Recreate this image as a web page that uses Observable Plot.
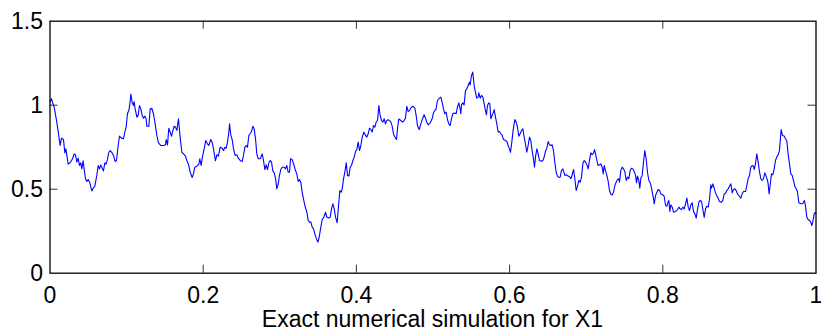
<!DOCTYPE html>
<html>
<head>
<meta charset="utf-8">
<script src="https://cdn.jsdelivr.net/npm/d3@7"></script>
<script src="https://cdn.jsdelivr.net/npm/@observablehq/plot@0.6"></script>
<style>
  html, body { margin: 0; padding: 0; background: white; }
  #chart svg { display: block; }
  #caption {
    margin-left: 49.5px; width: 766px; text-align: center;
    font-family: "Liberation Sans", Arial, sans-serif; font-size: 23px; line-height: 27px; color: black;
  }
</style>
</head>
<body>
<div id="chart"></div>
<div id="caption">Exact numerical simulation for X1</div>
<script>
const xTicks = [0, 0.2, 0.4, 0.6, 0.8, 1];
const yTicks = [0, 0.5, 1, 1.5];
const captionText = "Exact numerical simulation for X1";

const t = [
  0.000, 0.002, 0.0054, 0.0089, 0.0120, 0.0133, 0.0150, 0.0176, 0.0194, 0.0207,
  0.0220, 0.0237, 0.0263, 0.0294, 0.0315, 0.0333, 0.0350, 0.0368, 0.0385, 0.0402,
  0.0415, 0.0433, 0.0446, 0.0463, 0.0481, 0.0498, 0.0520, 0.0546, 0.0568, 0.0585,
  0.0611, 0.0629, 0.0646, 0.0663, 0.0681, 0.0698, 0.0716, 0.0733, 0.0750, 0.0768,
  0.0785, 0.0811, 0.0829, 0.0850, 0.0868, 0.0890, 0.0907, 0.0933, 0.0959, 0.0977,
  0.0994, 0.1011, 0.1029, 0.1046, 0.1055, 0.1072, 0.1090, 0.1098,
  0.1112, 0.1134, 0.1151, 0.1168, 0.1186, 0.1203, 0.1221, 0.1238, 0.1255, 0.1264,
  0.1290, 0.1308, 0.1329, 0.1351, 0.1373, 0.1395, 0.1416, 0.1447, 0.1482, 0.1508,
  0.1516, 0.1534, 0.1551, 0.1569, 0.1586, 0.1603, 0.1621, 0.1638, 0.1656, 0.1677,
  0.1699, 0.1721, 0.1743, 0.1769, 0.1786, 0.1808, 0.1830, 0.1856, 0.1873, 0.1890,
  0.1917, 0.1943, 0.1956, 0.1973, 0.1990, 0.2012, 0.2034, 0.2056, 0.2073, 0.2099,
  0.2117, 0.2134, 0.2160, 0.2178, 0.2199, 0.2221,
  0.2248, 0.2265, 0.2283, 0.2300, 0.2317, 0.2335, 0.2344, 0.2361, 0.2378, 0.2396,
  0.2417, 0.2439, 0.2457, 0.2483, 0.2509, 0.2526, 0.2544, 0.2561, 0.2578, 0.2596,
  0.2613, 0.2631, 0.2648, 0.2665, 0.2683, 0.2700, 0.2718, 0.2744, 0.2770, 0.2787,
  0.2805, 0.2822, 0.2839, 0.2857, 0.2874, 0.2892, 0.2909, 0.2926, 0.2944, 0.2961,
  0.2979, 0.2996, 0.3013, 0.3031, 0.3057, 0.3074, 0.3092, 0.3109, 0.3127, 0.3140,
  0.3161, 0.3187, 0.3205, 0.3222, 0.3240, 0.3257, 0.3274, 0.3292, 0.3309, 0.3327,
  0.3353, 0.3371, 0.3388, 0.3406, 0.3423, 0.3440, 0.3458, 0.3475, 0.3497, 0.3514,
  0.3532, 0.3554, 0.3575, 0.3597, 0.3614, 0.3641, 0.3658, 0.3675, 0.3693, 0.3710,
  0.3728, 0.3749, 0.3767, 0.3784, 0.3801, 0.3815, 0.3832, 0.3849, 0.3867, 0.3884,
  0.3902, 0.3919, 0.3936, 0.3954, 0.3971, 0.3989, 0.4006, 0.4023, 0.4041, 0.4058,
  0.4076, 0.4097, 0.4119, 0.4136, 0.4154, 0.4171, 0.4189, 0.4206, 0.4223, 0.4241,
  0.4258, 0.4276, 0.4293, 0.4310, 0.4328, 0.4345, 0.4363, 0.4380, 0.4397, 0.4415,
  0.4432, 0.4450, 0.4467, 0.4484,
  0.4493, 0.4510, 0.4523, 0.4536, 0.4554, 0.4580, 0.4606, 0.4623, 0.4641, 0.4658,
  0.4676, 0.4693, 0.4710, 0.4736, 0.4763, 0.4780, 0.4797, 0.4819, 0.4841, 0.4863,
  0.4884, 0.4902, 0.4919, 0.4937, 0.4963, 0.4989, 0.5006, 0.5024, 0.5041, 0.5058,
  0.5084, 0.5102, 0.5119, 0.5137, 0.5154, 0.5171, 0.5189, 0.5206, 0.5224, 0.5241,
  0.5258, 0.5284, 0.5302, 0.5319, 0.5337, 0.5354, 0.5363, 0.5372, 0.5389, 0.5406,
  0.5424, 0.5441, 0.5459, 0.5476, 0.5485, 0.5502, 0.5519, 0.5537, 0.5554, 0.5571, 0.5589,
  0.5598, 0.5616, 0.5633, 0.5651, 0.5668, 0.5685, 0.5698, 0.5712, 0.5729, 0.5742,
  0.5755, 0.5772, 0.5790, 0.5799, 0.5816, 0.5833, 0.5851, 0.5868, 0.5886, 0.5903,
  0.5920, 0.5946, 0.5964, 0.5981, 0.5999, 0.6012, 0.6029, 0.6046, 0.6068, 0.6086,
  0.6103, 0.6120, 0.6138, 0.6155, 0.6173, 0.6190, 0.6207, 0.6225, 0.6242, 0.6260,
  0.6277, 0.6294, 0.6312, 0.6325, 0.6338, 0.6355, 0.6373, 0.6390, 0.6416, 0.6434,
  0.6451, 0.6468, 0.6486, 0.6503, 0.6521, 0.6538, 0.6555, 0.6573, 0.6590, 0.6608,
  0.6625, 0.6642, 0.6660, 0.6677, 0.6695,
  0.6721, 0.6739, 0.6765, 0.6782, 0.6800, 0.6817, 0.6835, 0.6852, 0.6869, 0.6887,
  0.6904, 0.6922, 0.6939, 0.6956, 0.6974, 0.6991, 0.7009, 0.7026, 0.7043, 0.7061,
  0.7078, 0.7096, 0.7109, 0.7122, 0.7139, 0.7156, 0.7174, 0.7191, 0.7209, 0.7222,
  0.7235, 0.7252, 0.7270, 0.7287, 0.7304, 0.7322, 0.7339, 0.7357, 0.7374, 0.7391,
  0.7409, 0.7426, 0.7435, 0.7452, 0.7470, 0.7487, 0.7504, 0.7522, 0.7539, 0.7557,
  0.7574, 0.7591, 0.7609, 0.7626, 0.7644, 0.7657, 0.7670, 0.7687, 0.7700, 0.7713,
  0.7731, 0.7748, 0.7765, 0.7783, 0.7800, 0.7818, 0.7835,
  0.7844, 0.7862, 0.7879, 0.7888, 0.7905, 0.7923, 0.7940, 0.7958, 0.7975, 0.8001,
  0.8018, 0.8036, 0.8053, 0.8071, 0.8079, 0.8092, 0.8105, 0.8123, 0.8140, 0.8166,
  0.8192, 0.8210, 0.8227, 0.8245, 0.8262, 0.8279, 0.8297, 0.8314, 0.8332, 0.8349,
  0.8366, 0.8384, 0.8401, 0.8419, 0.8436, 0.8453, 0.8471, 0.8488, 0.8506, 0.8523,
  0.8540, 0.8558, 0.8575, 0.8593, 0.8610, 0.8627, 0.8636, 0.8654, 0.8671, 0.8688,
  0.8714, 0.8741, 0.8767, 0.8784, 0.8801, 0.8819, 0.8836, 0.8854, 0.8871, 0.8888,
  0.8906, 0.8923, 0.8941, 0.8958, 0.8975,
  0.9001, 0.9019, 0.9036, 0.9053, 0.9080, 0.9097, 0.9114, 0.9132, 0.9149, 0.9167,
  0.9184, 0.9193, 0.9210, 0.9227, 0.9245, 0.9262, 0.9280, 0.9297, 0.9314, 0.9332,
  0.9349, 0.9367, 0.9375, 0.9388, 0.9401, 0.9419, 0.9436, 0.9454, 0.9471, 0.9488,
  0.9506, 0.9523, 0.9532, 0.9545, 0.9562, 0.9584, 0.9602, 0.9619, 0.9636, 0.9654,
  0.9671, 0.9689, 0.9706, 0.9723, 0.9741, 0.9758, 0.9776, 0.9802, 0.9828, 0.9849,
  0.9862, 0.9880, 0.9897, 0.9915, 0.9932, 0.9945, 0.9958, 0.9976, 0.9993, 1.0000
];

const x1 = [
  1.02, 1.038, 0.988, 0.899, 0.800, 0.760, 0.804, 0.796, 0.716, 0.740,
  0.701, 0.649, 0.657, 0.681, 0.709, 0.705, 0.661, 0.685, 0.641, 0.657,
  0.621, 0.669, 0.621, 0.562, 0.546, 0.558, 0.538, 0.490, 0.510, 0.518,
  0.582, 0.641, 0.621, 0.645, 0.625, 0.609, 0.657, 0.649, 0.677, 0.720,
  0.730, 0.716, 0.701, 0.665, 0.671, 0.760, 0.816, 0.804, 0.800, 0.840,
  0.869, 0.949, 0.968, 1.018, 1.066, 1.018, 0.998, 1.022,
  0.978, 0.929, 0.939, 0.998, 0.978, 0.939, 0.923, 0.935, 0.919, 0.875,
  0.875, 0.978, 0.982, 0.949, 0.889, 0.820, 0.776, 0.760, 0.760, 0.764,
  0.796, 0.764, 0.863, 0.839, 0.816, 0.847, 0.875, 0.869, 0.850, 0.919,
  0.810, 0.720, 0.710, 0.697, 0.671, 0.649, 0.601, 0.570, 0.591, 0.631,
  0.637, 0.649, 0.681, 0.641, 0.691, 0.740, 0.790, 0.770, 0.760, 0.796,
  0.780, 0.740, 0.669, 0.705, 0.697, 0.750,
  0.744, 0.730, 0.750, 0.744, 0.780, 0.840, 0.889, 0.820, 0.796, 0.740,
  0.701, 0.705, 0.685, 0.671, 0.665, 0.701, 0.750, 0.760, 0.750, 0.820,
  0.830, 0.843, 0.875, 0.859, 0.800, 0.710, 0.681, 0.681, 0.710, 0.671,
  0.617, 0.645, 0.617, 0.657, 0.671, 0.661, 0.609, 0.597, 0.566, 0.502,
  0.532, 0.582, 0.617, 0.631, 0.631, 0.621, 0.641, 0.601, 0.601, 0.681,
  0.677, 0.641, 0.611, 0.591, 0.546, 0.558, 0.542, 0.482, 0.443, 0.403,
  0.363, 0.314, 0.304, 0.304, 0.274, 0.264, 0.234, 0.209, 0.185, 0.214,
  0.264, 0.320, 0.334, 0.363, 0.334, 0.328, 0.334, 0.383, 0.413, 0.383,
  0.334, 0.300, 0.403, 0.492, 0.482, 0.502, 0.562, 0.601, 0.657, 0.582,
  0.578, 0.631, 0.641, 0.671, 0.691, 0.724, 0.736, 0.780, 0.730, 0.760,
  0.810, 0.840, 0.820, 0.810, 0.830, 0.863, 0.855, 0.840, 0.879, 0.869,
  0.899, 0.909, 0.998, 0.939, 0.909, 0.899, 0.919, 0.889, 0.909, 0.913,
  0.909, 0.899, 0.875, 0.830,
  0.820, 0.804, 0.796, 0.859, 0.919, 0.909, 0.899, 0.909, 0.923, 0.994,
  0.962, 0.968, 0.982, 0.994, 0.982, 0.939, 0.879, 0.855, 0.889, 0.919,
  0.943, 0.923, 0.899, 0.883, 0.895, 0.919, 0.955, 0.968, 0.978, 1.028,
  1.042, 1.048, 1.018, 0.978, 0.949, 0.959, 0.915, 0.889, 0.879, 0.919,
  0.949, 0.953, 0.949, 0.988, 1.014, 0.978, 0.949, 1.002, 1.014, 1.002,
  1.087, 1.097, 1.117, 1.137, 1.121, 1.177, 1.197, 1.117, 1.078, 1.042, 1.048,
  1.074, 1.042, 1.058, 1.048, 1.008, 0.968, 0.943, 0.998, 1.014, 1.008,
  0.919, 0.939, 0.959, 0.974, 0.929, 0.889, 0.840, 0.843, 0.830, 0.820,
  0.796, 0.790, 0.784, 0.760, 0.740, 0.720, 0.780, 0.850, 0.915, 0.899,
  0.869, 0.816, 0.830, 0.850, 0.859, 0.810, 0.770, 0.720, 0.760, 0.810,
  0.790, 0.730, 0.681, 0.631, 0.691, 0.740, 0.710, 0.671, 0.667, 0.671,
  0.691, 0.724, 0.744, 0.784, 0.764, 0.760, 0.764, 0.730, 0.661, 0.601,
  0.576, 0.570, 0.572, 0.611, 0.621,
  0.582, 0.586, 0.578, 0.576, 0.562, 0.586, 0.617, 0.562, 0.492, 0.518,
  0.552, 0.542, 0.572, 0.651, 0.671, 0.661, 0.645, 0.621, 0.671, 0.716,
  0.705, 0.716, 0.736, 0.710, 0.671, 0.641, 0.645, 0.651, 0.631, 0.591,
  0.641, 0.611, 0.582, 0.546, 0.492, 0.470, 0.466, 0.482, 0.522, 0.542,
  0.558, 0.562, 0.542, 0.611, 0.631, 0.621, 0.605, 0.552, 0.572, 0.562,
  0.611, 0.625, 0.621, 0.605, 0.582, 0.538, 0.578, 0.552, 0.506, 0.566,
  0.582, 0.661, 0.730, 0.681, 0.601, 0.552, 0.538,
  0.526, 0.482, 0.443, 0.413, 0.462, 0.482, 0.498, 0.492, 0.472, 0.466,
  0.458, 0.403, 0.399, 0.427, 0.433, 0.367, 0.407, 0.393, 0.363, 0.367,
  0.379, 0.393, 0.383, 0.379, 0.393, 0.383, 0.413, 0.447, 0.393, 0.373,
  0.407, 0.419, 0.367, 0.353, 0.328, 0.379, 0.423, 0.433, 0.427, 0.379,
  0.332, 0.383, 0.399, 0.393, 0.443, 0.526, 0.506, 0.532, 0.506, 0.478,
  0.453, 0.427, 0.423, 0.433, 0.472, 0.476, 0.492, 0.502, 0.518, 0.532,
  0.478, 0.498, 0.502, 0.492, 0.472,
  0.458, 0.447, 0.472, 0.486, 0.486, 0.522, 0.562, 0.582, 0.631, 0.641,
  0.637, 0.617, 0.651, 0.710, 0.661, 0.605, 0.562, 0.552, 0.562, 0.597,
  0.578, 0.552, 0.532, 0.472, 0.522, 0.591, 0.585, 0.621, 0.671, 0.691,
  0.705, 0.730, 0.780, 0.855, 0.820, 0.816, 0.800, 0.790, 0.710, 0.651,
  0.591, 0.582, 0.552, 0.518, 0.502, 0.486, 0.419, 0.413, 0.415, 0.433,
  0.403, 0.334, 0.320, 0.314, 0.304, 0.284, 0.304, 0.353, 0.363, 0.355
];

const n = Math.min(t.length, x1.length);
const data = [];
for (let i = 0; i < n; i++) data.push({t: t[i], x1: x1[i]});

const W = 821, H = 306;
const mL = 49.5, mR = 5.5, mT = 20.7, mB = 33.3;
const fw = W - mL - mR, fh = H - mT - mB;
const tickLen = 8;
const font = "'Liberation Sans', Arial, Helvetica, sans-serif";

const chart = Plot.plot({
  width: W,
  height: H,
  marginLeft: mL, marginRight: mR, marginTop: mT, marginBottom: mB,
  x: {domain: [0, 1]},
  y: {domain: [0, 1.5]},
  style: {fontFamily: font, fontSize: "23px", color: "black", background: "white", overflow: "visible"},
  marks: [
    Plot.line(data, {x: "t", y: "x1", stroke: "#0000ff", strokeWidth: 1.1}),
    Plot.tickX(xTicks.slice(1, -1), {x: d => d, insetTop: fh - tickLen, stroke: "#333", strokeWidth: 1}),
    Plot.tickX(xTicks.slice(1, -1), {x: d => d, insetBottom: fh - tickLen, stroke: "#333", strokeWidth: 1}),
    Plot.tickY(yTicks.slice(1, -1), {y: d => d, insetRight: fw - tickLen, stroke: "#333", strokeWidth: 1}),
    Plot.tickY(yTicks.slice(1, -1), {y: d => d, insetLeft: fw - tickLen, stroke: "#333", strokeWidth: 1}),
    Plot.frame({stroke: "black", strokeWidth: 1.3}),
    Plot.axisX({ticks: xTicks, tickSize: 0, tickPadding: 13, fontSize: 23, label: null, tickFormat: d => String(d)}),
    Plot.axisY({ticks: yTicks, tickSize: 0, tickPadding: 7, fontSize: 23, label: null, tickFormat: d => String(d)})
  ]
});
document.getElementById("chart").appendChild(chart);
document.getElementById("caption").textContent = captionText;
</script>
</body>
</html>
